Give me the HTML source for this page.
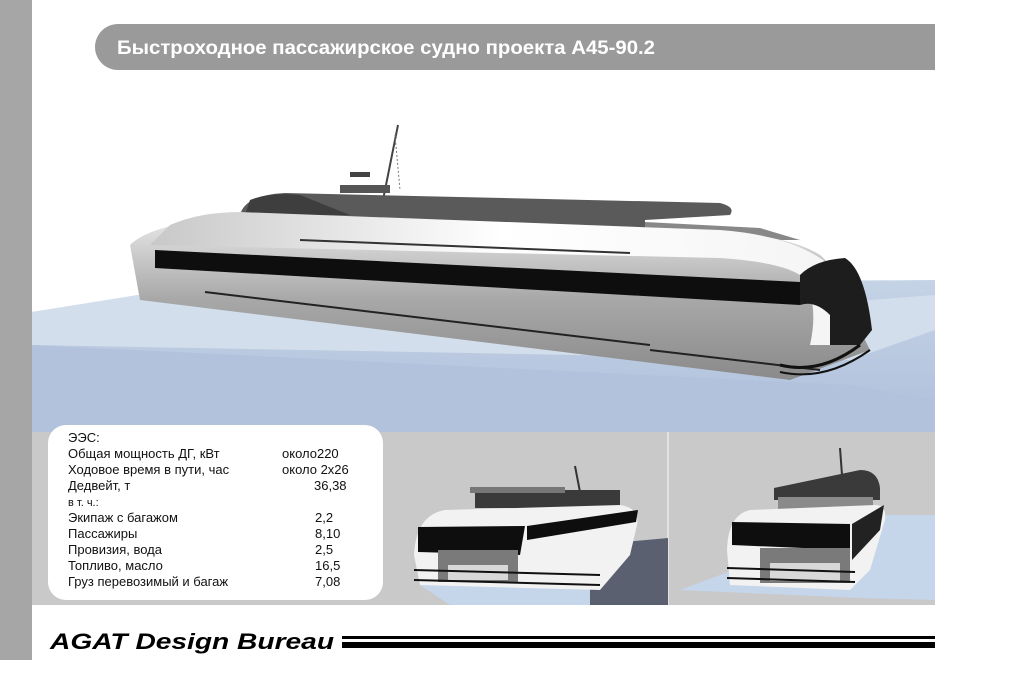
<!DOCTYPE html>
<html><head><meta charset="utf-8"><style>
html,body{margin:0;padding:0;background:#fff;width:1024px;height:683px;overflow:hidden}
svg{display:block}
text{font-family:"Liberation Sans",sans-serif}
</style></head><body>
<svg width="1024" height="683" viewBox="0 0 1024 683" xmlns="http://www.w3.org/2000/svg">
<defs>
<linearGradient id="hull" x1="0" y1="0" x2="0" y2="1">
<stop offset="0" stop-color="#e8e8e8"/><stop offset="0.5" stop-color="#a8a8a8"/><stop offset="1" stop-color="#8a8a8a"/></linearGradient>
<linearGradient id="roof" x1="0" y1="0" x2="1" y2="0">
<stop offset="0" stop-color="#c8c8c8"/><stop offset="0.5" stop-color="#ffffff"/><stop offset="1" stop-color="#f4f4f4"/></linearGradient>
<linearGradient id="floor" x1="0" y1="0" x2="0" y2="1">
<stop offset="0" stop-color="#c5d3e6"/><stop offset="1" stop-color="#aebfda"/></linearGradient>
</defs>
<rect width="1024" height="683" fill="#fff"/>
<!-- left bar -->
<rect x="0" y="0" width="32" height="660" fill="#a6a6a6"/>
<!-- title pill -->
<path d="M118 24 H935 V70 H118 A23 23 0 0 1 95 47 A23 23 0 0 1 118 24 Z" fill="#9a9a9a"/>
<text x="117" y="54" font-size="19" font-weight="bold" fill="#fff" textLength="538" lengthAdjust="spacingAndGlyphs">Быстроходное пассажирское судно проекта А45-90.2</text>
<!-- main floor -->
<polygon points="32,312 200,285 935,280 935,432 32,432" fill="url(#floor)"/>
<polygon points="32,312 200,285 870,300 935,295 935,330 850,360 32,345" fill="#d3deec"/>
<polygon points="32,345 850,385 935,400 935,432 32,432" fill="#b2c2dc"/>
<!-- main ship -->
<line x1="382" y1="205" x2="398" y2="125" stroke="#444" stroke-width="2"/>
<line x1="395" y1="135" x2="400" y2="190" stroke="#777" stroke-width="1" stroke-dasharray="2,2"/>
<rect x="350" y="172" width="20" height="5" fill="#444"/>
<rect x="340" y="185" width="50" height="8" fill="#555"/>
<path d="M240 215 Q245 195 285 193 L720 203 Q736 207 730 215 L645 220 L645 230 L240 222 Z" fill="#5a5a5a"/>
<path d="M250 200 Q270 192 300 195 L350 215 L245 215 Z" fill="#3e3e3e"/>
<polygon points="645,222 760,228 800,240 645,240" fill="#888"/>
<path d="M130 245 Q150 225 220 218 L720 232 Q790 236 820 255 Q845 275 840 330 L860 330 L870 350 L790 380 L140 300 Z" fill="url(#hull)"/>
<path d="M170 225 Q200 212 240 212 L720 230 Q800 236 835 270 Q860 300 850 345 L810 345 Q820 300 800 275 Q780 262 720 258 L150 245 Z" fill="url(#roof)"/>
<polygon points="155,250 800,282 800,305 155,268" fill="#0e0e0e"/>
<path d="M800 275 Q815 260 845 258 Q865 270 872 330 L860 345 L830 345 L830 315 Q815 300 800 305 Z" fill="#1d1d1d"/>
<line x1="300" y1="240" x2="630" y2="253" stroke="#333" stroke-width="2"/>
<line x1="205" y1="292" x2="650" y2="345" stroke="#222" stroke-width="2"/>
<line x1="650" y1="350" x2="820" y2="370" stroke="#222" stroke-width="2"/>
<path d="M780 365 Q820 375 860 345" stroke="#111" stroke-width="3" fill="none"/>
<path d="M780 372 Q825 382 870 350" stroke="#111" stroke-width="2" fill="none"/>
<!-- bottom panels -->
<rect x="32" y="432" width="903" height="173" fill="#c9c9c9"/>
<rect x="667" y="432" width="2" height="173" fill="#e2e2e2"/>
<polygon points="420,585 590,545 668,538 668,605 450,605" fill="#c5d5ea"/>
<polygon points="590,545 668,538 668,605 590,605" fill="#5a6070"/>
<polygon points="680,590 880,515 935,515 935,600 860,598" fill="#c5d5ea"/>
<!-- panel1 ship -->
<line x1="575" y1="466" x2="580" y2="492" stroke="#333" stroke-width="2"/>
<rect x="475" y="490" width="145" height="18" fill="#3a3a3a"/>
<rect x="470" y="487" width="95" height="6" fill="#777"/>
<path d="M414 555 Q416 515 445 510 L620 505 Q640 508 637 525 L630 555 L600 590 L420 585 Z" fill="#f2f2f2"/>
<polygon points="418,527 525,526 520,555 418,552" fill="#0e0e0e"/>
<polygon points="527,526 638,510 636,522 527,540" fill="#0e0e0e"/>
<rect x="438" y="550" width="80" height="32" fill="#7a7a7a"/>
<rect x="448" y="565" width="60" height="15" fill="#d8d8d8"/>
<line x1="414" y1="570" x2="600" y2="575" stroke="#111" stroke-width="2"/>
<line x1="414" y1="580" x2="600" y2="585" stroke="#111" stroke-width="2"/>
<!-- panel2 ship -->
<line x1="840" y1="448" x2="842" y2="475" stroke="#333" stroke-width="2"/>
<path d="M774 488 L860 470 Q878 470 880 488 L880 500 L774 500 Z" fill="#3a3a3a"/>
<rect x="778" y="497" width="95" height="14" fill="#8a8a8a"/>
<path d="M727 550 Q728 515 750 510 L875 505 Q887 505 885 520 L870 570 L850 590 L730 585 Z" fill="#f2f2f2"/>
<polygon points="732,522 850,524 850,550 732,545" fill="#0e0e0e"/>
<polygon points="852,524 884,505 880,530 852,560" fill="#222"/>
<rect x="760" y="548" width="90" height="35" fill="#7a7a7a"/>
<rect x="770" y="563" width="70" height="18" fill="#d8d8d8"/>
<line x1="727" y1="568" x2="855" y2="572" stroke="#111" stroke-width="2"/>
<line x1="727" y1="578" x2="855" y2="582" stroke="#111" stroke-width="2"/>
<!-- white table box -->
<rect x="48" y="425" width="335" height="175" rx="18" fill="#fff"/>
<g font-size="13" fill="#111">
<text x="68" y="442">ЭЭС:</text>
<text x="68" y="458">Общая мощность ДГ, кВт</text><text x="282" y="458">около220</text>
<text x="68" y="474">Ходовое время в пути, час</text><text x="282" y="474">около 2х26</text>
<text x="68" y="490">Дедвейт, т</text><text x="314" y="490">36,38</text>
<text x="68" y="506" font-size="11">в т. ч.:</text>
<text x="68" y="522">Экипаж с багажом</text><text x="315" y="522">2,2</text>
<text x="68" y="538">Пассажиры</text><text x="315" y="538">8,10</text>
<text x="68" y="554">Провизия, вода</text><text x="315" y="554">2,5</text>
<text x="68" y="570">Топливо, масло</text><text x="315" y="570">16,5</text>
<text x="68" y="586">Груз перевозимый  и багаж</text><text x="315" y="586">7,08</text>
</g>
<!-- logo -->
<text x="50" y="649" font-size="22" font-weight="bold" font-style="italic" fill="#000" textLength="284" lengthAdjust="spacingAndGlyphs">AGAT Design Bureau</text>
<rect x="342" y="636" width="593" height="3" fill="#000"/>
<rect x="342" y="642" width="593" height="6" fill="#000"/>
</svg>
</body></html>
